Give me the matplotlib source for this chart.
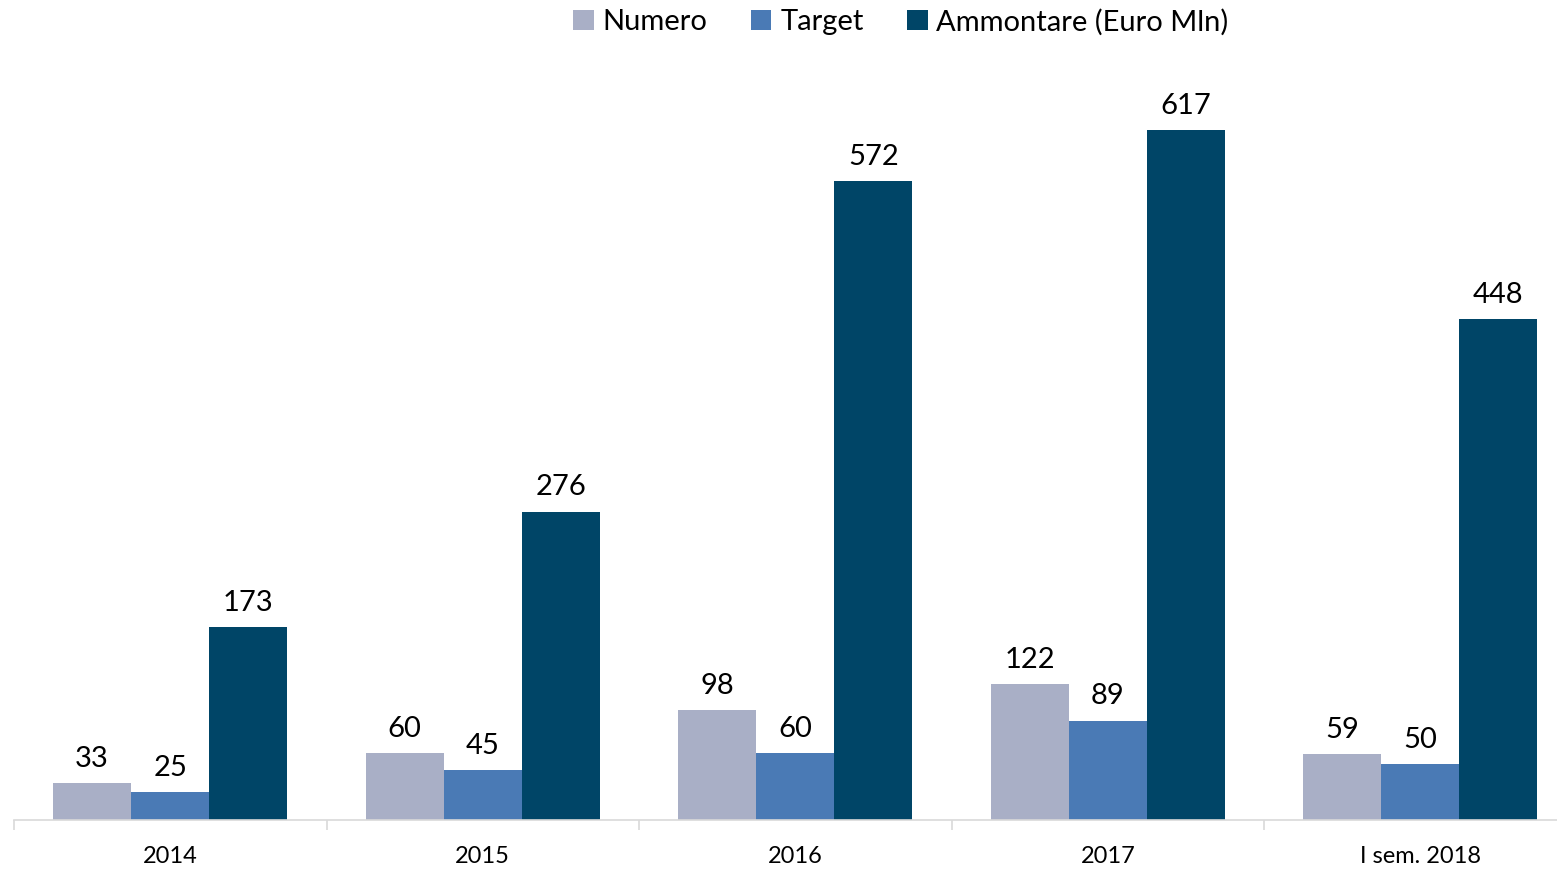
import matplotlib.pyplot as plt
import numpy as np

categories = ['2014', '2015', '2016', '2017', 'I sem. 2018']
numero = [33, 60, 98, 122, 59]
target = [25, 45, 60, 89, 50]
ammontare = [173, 276, 572, 617, 448]

series = [('Numero', numero, '#A9AFC6'),
          ('Target', target, '#4A7AB5'),
          ('Ammontare (Euro Mln)', ammontare, '#004567')]

plt.rcParams['font.family'] = ['Lato', 'DejaVu Sans']

fig = plt.figure(figsize=(15.57, 8.69), dpi=100)
# axes runs a bit past the right edge, like the original
ax = fig.add_axes([14 / 1557, 49 / 869, 1562.5 / 1557, 760 / 869])

x = np.arange(len(categories))
w = 0.25
for i, (name, vals, col) in enumerate(series):
    bars = ax.bar(x + (i - 1) * w, vals, w, color=col, label=name)
    ax.bar_label(bars, labels=[str(v) for v in vals], padding=8, fontsize=21)

ax.set_xlim(-0.5, len(categories) - 0.5)
ax.set_ylim(0, 680)
ax.set_yticks([])
for s in ['top', 'right', 'left']:
    ax.spines[s].set_visible(False)
ax.spines['bottom'].set_color('#D9D9D9')
ax.spines['bottom'].set_linewidth(1.2)

ax.set_xticks(x)
ax.set_xticklabels(categories, fontsize=17)
ax.tick_params(axis='x', length=0, pad=19)
ax.set_xticks(np.arange(len(categories) + 1) - 0.5, minor=True)
ax.tick_params(axis='x', which='minor', length=7, color='#D9D9D9', width=1.2)

fig.legend(loc='center', bbox_to_anchor=(901 / 1557, 1 - 22 / 869), ncol=3,
           frameon=False, fontsize=21, handlelength=0.7, handleheight=0.7,
           handletextpad=0.3, columnspacing=1.5)

fig.savefig('out.png', dpi=100)
